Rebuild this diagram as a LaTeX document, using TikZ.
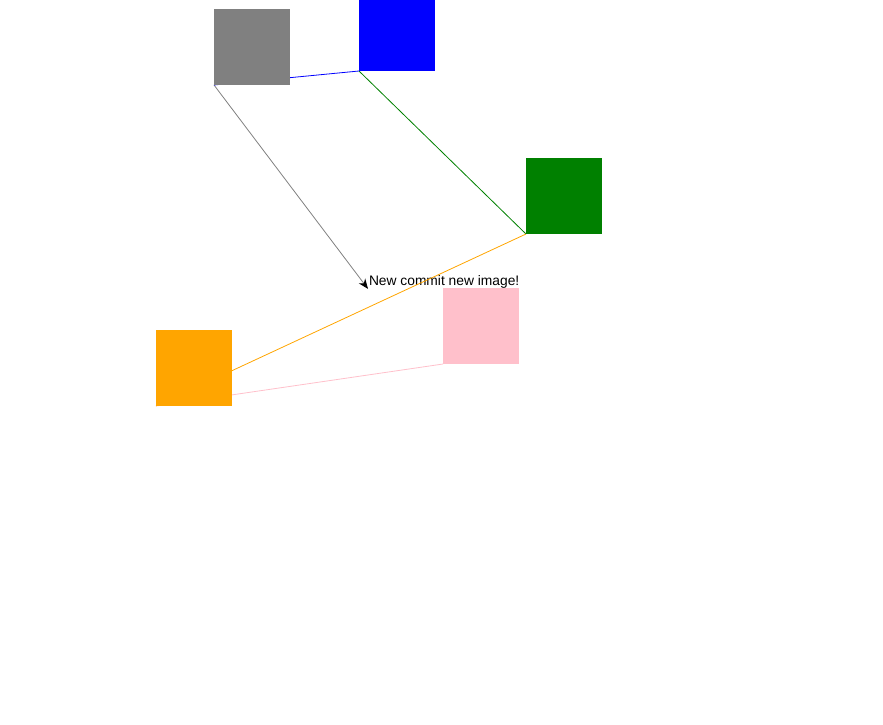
\documentclass[tikz,border=0pt]{standalone}
\usepackage{fontspec}
\setmainfont{Liberation Sans}
\usetikzlibrary{arrows.meta}
\definecolor{webgreen}{RGB}{0,128,0}
\definecolor{weborange}{RGB}{255,165,0}
\definecolor{webpink}{RGB}{255,192,203}
\definecolor{webgray}{RGB}{128,128,128}
\tikzset{
  sq/.style={minimum size=76pt, inner sep=0pt, outer sep=0pt, draw=none},
  link/.style={line width=0.8pt},
  lbl/.style={font=\fontsize{13.8pt}{16pt}\selectfont, inner sep=1pt, outer sep=0pt}
}
\begin{document}
\begin{tikzpicture}[x=1pt,y=-1pt]
\useasboundingbox (0,0) rectangle (883,724);
\clip (0,0) rectangle (883,724);
% node placement (drawn later on top of lines)
\path
  (252,47)  node[sq] (gray) {}
  (397,33)  node[sq] (blue) {}
  (564,196) node[sq] (green) {}
  (194,368) node[sq] (orange) {}
  (481,326) node[sq] (pink) {}
  (368,285) node[lbl, anchor=base west] (msg) {New commit new image!};
% connectors
\draw[link, webgray, -{Stealth[length=10pt,width=8pt,black]}] (gray.south west) -- (msg.south west);
\draw[link, blue] (gray.south west) -- (blue.south west);
\draw[link, webgreen] (blue.south west) -- (green.south west);
\draw[link, weborange] (green.south west) -- (orange.south west);
\draw[link, webpink] (pink.south west) -- (orange.south west);
% squares on top
\fill[webgray] (gray.south west) rectangle (gray.north east);
\fill[blue] (blue.south west) rectangle (blue.north east);
\fill[webgreen] (green.south west) rectangle (green.north east);
\fill[weborange] (orange.south west) rectangle (orange.north east);
\fill[webpink] (pink.south west) rectangle (pink.north east);
\end{tikzpicture}
\end{document}
